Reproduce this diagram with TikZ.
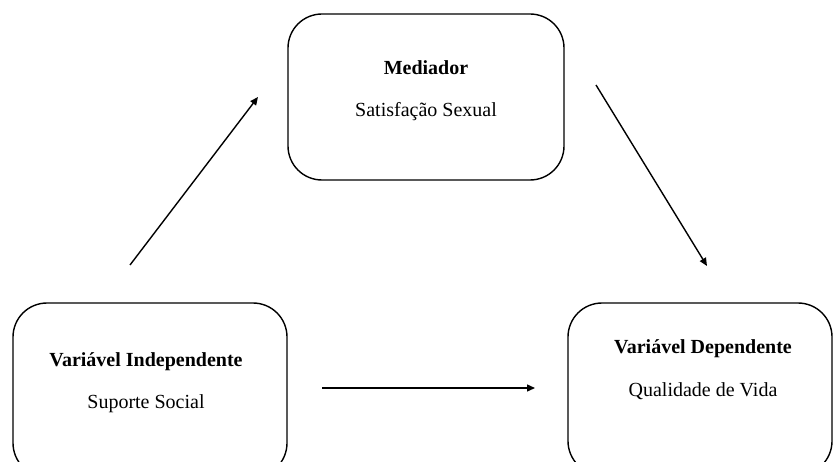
\documentclass[tikz,border=0pt]{standalone}
\usepackage{fontspec}
\setmainfont{Liberation Serif}
\usetikzlibrary{arrows.meta}

\begin{document}
\begin{tikzpicture}[x=1pt, y=-1pt, >={Triangle[length=8pt,width=7pt]},
  box/.style={draw, line width=1.4pt, rounded corners=34pt, inner sep=0pt},
  txt/.style={anchor=base, font=\fontsize{20}{24}\selectfont},
  hd/.style={txt, font=\fontsize{20}{24}\selectfont\bfseries}]
  \useasboundingbox (0,0) rectangle (834,462);
  \clip (0,0) rectangle (834,462);

  \node[box, minimum width=276pt, minimum height=166pt] (med) at (426,97) {};
  \node[box, minimum width=274pt, minimum height=174pt] (ind) at (150,390) {};
  \node[box, minimum width=264pt, minimum height=172pt] (dep) at (700,389) {};

  \node[hd]  (medT) at (426,75) {Mediador};
  \node[txt] (medS) at (426,117) {Satisfação Sexual};
  \node[hd]  (indT) at (146,366) {Variável Independente};
  \node[txt] (indS) at (146,408) {Suporte Social};
  \node[hd]  (depT) at (703,353) {Variável Dependente};
  \node[txt] (depS) at (703,396) {Qualidade de Vida};

  \coordinate (a1) at (130,265);
  \coordinate (b1) at (258,97);
  \coordinate (a2) at (596,85);
  \coordinate (b2) at (707,266);
  \coordinate (a3) at (322,388);
  \coordinate (b3) at (535,388);

  \draw[->, line width=1.4pt] (a1) -- (b1);
  \draw[->, line width=1.4pt] (a2) -- (b2);
  \draw[->, line width=1.4pt] (a3) -- (b3);
\end{tikzpicture}
\end{document}
